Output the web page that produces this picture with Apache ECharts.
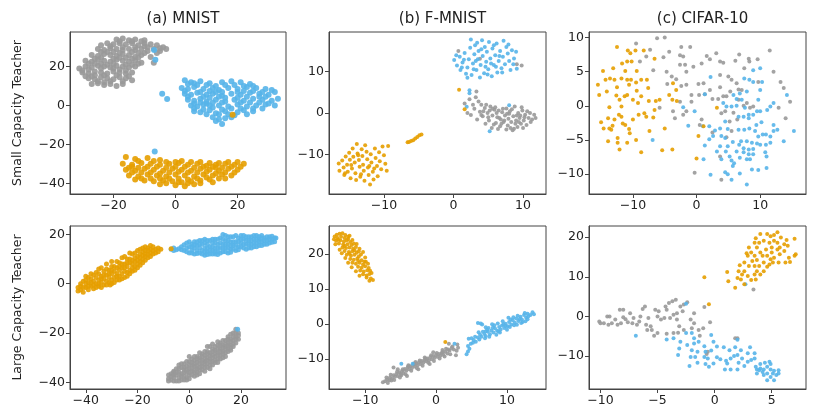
<!DOCTYPE html>
<html>
<head>
<meta charset="utf-8">
<script src="https://cdn.jsdelivr.net/npm/echarts@6/dist/echarts.min.js"></script>
<style>
  html, body { margin: 0; padding: 0; background: #fff; }
  #chart { width: 814px; height: 419px; }
</style>
</head>
<body>
<div id="chart"></div>
<script>
// 标题 / 行标签 / 刻度
const titles = ['(a) MNIST', '(b) F-MNIST', '(c) CIFAR-10']
const rowLabels = ['Small Capacity Teacher', 'Large Capacity Teacher']
const xTicks = [[-20, 0, 20], [-10, 0, 10], [-10, 0, 10], [-40, -20, 0, 20], [-10, 0, 10], [-10, -5, 0, 5]]
const yTicks = [[-40, -20, 0, 20], [-10, 0, 10], [-10, -5, 0, 5, 10], [-40, -20, 0, 20], [-10, 0, 10, 20], [-10, 0, 10, 20]]

// (a) MNIST - small
const mnistSmallGray = [[-19,34],[-17,34.5],[-15,33.5],[-13,34],[-11,33],[-22,32],[-20,31.5],[-18,32],[-16,31.5],[-14,32],[-12,31],[-10,32],[-8,31.5],[-6,31],[-4,30],[-3,29],
  [-25,29],[-23,28.5],[-21,29.5],[-19,29],[-17,28.5],[-15,29],[-13,28.5],[-11,29],[-9,28],[-7,29],[-5,28],
  [-27,26],[-25,25.5],[-23,26.5],[-21,26],[-19,25.5],[-17,26.5],[-15,26],[-13,25],[-11,26],[-8,25],[-7,22],
  [-29,23],[-27,22.5],[-25,23.5],[-23,23],[-21,22.5],[-19,23.5],[-17,23],[-15,22.5],[-13,23],[-11,22],
  [-31,19],[-29,20],[-27,19.5],[-25,20.5],[-23,20],[-21,19.5],[-19,20.5],[-17,20],[-15,19.5],[-13,20],
  [-30,17],[-28,16.5],[-26,17.5],[-24,17],[-22,16.5],[-20,17.5],[-18,17],[-16,16.5],[-14,17],
  [-28,14],[-26,13.5],[-24,14.5],[-22,14],[-20,13.5],[-18,14.5],[-16,14],[-14,13],
  [-27,11],[-25,11.5],[-23,10.5],[-21,11],[-19,10],[-17,11],
  [-24,31],[-20,27.5],[-16,24.5],[-22,21],[-18,18.5],[-12,27],[-26,15.5],[-10,30.5],[-14,21],
  [-18,33],[-14,33],[-10,33.5],[-21,30.5],[-17,30],[-13,30],[-9,30],[-5,29.5],[-24,27.5],[-22,27.5],[-18,27],[-14,27.5],[-10,27],[-6,27],
  [-26,24],[-24,24.5],[-20,24],[-18,24.5],[-14,24],[-12,24.5],[-28,21.5],[-26,21.5],[-24,21.5],[-20,21.5],[-16,21],[-12,21.5],
  [-30,18],[-28,18.5],[-24,19],[-20,19],[-16,18],[-29,15],[-27,15],[-23,15.5],[-19,15.5],[-15,15],[-25,12.5],[-21,12.5],[-17,12.5],[-23,12]]
const mnistSmallBlue = [[3,13],[5,12],[8,12.5],[11,11.5],[15,12],[18,12.5],[21,12],[24,11],
  [2,9],[4,8.5],[6,9.5],[9,8.5],[12,9],[14,8],[17,9],[20,8.5],[23,9.5],[26,9],[29,8.5],
  [3,6],[5,5.5],[7,6.5],[10,5.5],[12,6],[15,5],[18,6],[21,5.5],[24,6.5],[27,6],[30,5.5],[32,7],
  [4,3],[6,2.5],[8,3.5],[10,2],[13,3],[16,2],[19,3],[22,2.5],[25,3.5],[28,3],[31,2.5],[33,3.5],
  [5,0],[7,-0.5],[9,0.5],[12,-1],[14,0],[17,-0.5],[20,0.5],[23,-0.5],[26,0],[29,0.5],[32,0],
  [6,-3],[8,-3.5],[11,-2.5],[13,-4],[16,-3],[20,-3.5],[22,-2.5],[25,-3],
  [12,-6],[14,-7],[16,-6.5],[18,-6],[15,-9.5],[13,-8],
  [7,10.5],[19,10.5],[11,7.5],[22,7.5],[16,4],[27,4.5],[10,1],[24,1.5],[18,-1.5],[9,-2],
  [4,11],[6,11.5],[10,10.5],[13,10],[16,10.5],[22,10],[25,10],[3,7.5],[8,7],[13,7],[15,7],[20,7],[25,7.5],[28,7],[31,8],
  [4,4.5],[9,4.5],[11,4],[14,4.5],[20,4],[23,4.5],[29,4.5],[6,1],[8,1.5],[12,1.5],[15,1.5],[21,1.5],[27,1.5],[30,1],
  [6,-1.5],[11,0],[15,-2],[21,-1.5],[25,-1.5],[28,-1.5],[10,-4.5],[14,-4.5],[17,-4.5],[19,-5],[23,-4.5],
  [-6.9,28.6],[-6.5,23.5],[-4.3,6],[-2.7,3.3],[-6.7,-23.7]]
const mnistSmallOrange = [[-16,-26.5],[-13,-27.5],[-9,-27],[-5,-28],[2,-28.5],[8,-29],[14,-29.5],
  [-17,-30],[-14,-30.5],[-11,-29.5],[-8,-30],[-5,-30.5],[-2,-30],[1,-29.5],[4,-30.5],[7,-30],[10,-31],[13,-30.5],[16,-30],[19,-30.5],[22,-30],
  [-16,-33],[-13,-33.5],[-10,-32.5],[-7,-33],[-4,-33.5],[-1,-32.5],[2,-33],[5,-33.5],[8,-32.5],[11,-33],[14,-33.5],[17,-32.5],[20,-33],
  [-15,-36],[-12,-36.5],[-9,-35.5],[-6,-36],[-3,-36.5],[0,-35.5],[3,-36],[6,-36.5],[9,-35.5],[12,-36],[15,-35.5],[18,-36],
  [-10,-38.5],[-7,-39],[-4,-38.5],[-1,-39],[2,-39.5],[5,-39],[8,-38.5],[11,-38],[14,-37.5],
  [0,-41],[3,-41.5],[6,-40.5],[-5,-40.5],
  [-14,-31.5],[-8,-34.5],[-2,-34.5],[4,-34.5],[10,-34],[16,-34.5],[21,-31.5],[7,-37.5],[-11,-37.5],[13,-32],
  [-12,-28.5],[-7,-28.5],[-3,-29],[0,-29],[5,-29],[11,-29.5],[17,-29],[20,-29],[-15,-32],[-12,-32],[-9,-31.5],[-6,-31.5],[-3,-32],[0,-31.5],
  [3,-31.5],[6,-32],[9,-31.5],[12,-31.5],[15,-32],[18,-31.5],[-14,-34.5],[-11,-34.5],[-5,-35],[1,-34],[7,-34.5],[13,-35],[19,-34.5],
  [-13,-38],[-8,-37.5],[-5,-37.5],[-2,-37.5],[1,-37.5],[4,-38],[10,-37],[16,-37.5],[-3,-40],[1,-39.5],[4,-40],[8,-40],[12,-39.5],
  [18.4,-4.8]]

// (b) F-MNIST - small
const fmnistSmallGray = [[0.7,15],[9.1,11.8],[9.8,11.5],[3.8,13.1],[3.3,5.2],[3.2,3.8],[1.6,2.3],[2.3,3.3],[2,0],[2.5,-0.5],[3,1],[3.4,-1.6],[3.8,0.3],[4,2],[4.2,-0.8],[4.5,1.2],[4.6,-2.6],[4.9,0],[5.1,-1.8],[5.3,1.6],[5.5,-3.6],[5.6,-0.6],[5.9,0.8],[6.1,-2.4],[6.3,-1],[6.5,0.6],[6.7,-3.2],[6.8,-1.6],[7,0.2],[7.2,-2.2],[7.4,-0.6],[7.6,1.1],[7.8,-3],[7.9,-1.4],[8.1,0.4],[8.3,-2.2],[8.5,-4.2],[8.6,-0.8],[8.8,1.6],[9,-1.8],[9.2,-3.4],[9.3,0],[9.5,-1.2],[9.7,-2.6],[9.9,0.6],[10.1,-1.8],[10.3,-0.4],[10.5,-2.9],[10.8,-1.2],[11,0],[11.3,-1.6],[11.6,-0.4],[5,-1],[6.6,-1.2],[8,-0.2],[9.6,-0.6],[7.3,-1.8],[8.9,-2.6],[4.3,0.4],[6,1.4],
  [4,-0.5],[4.7,2],[5.2,0.6],[5.8,-2.8],[6.2,0],[6.9,-2.6],[7.1,1],[7.7,-0.2],[8.2,-3.6],[8.4,0.9],[9.1,-0.6],[9.4,-2.2],[9.8,1.4],[10.2,-1],[10.6,0.4],[11.1,-2.2],[11.8,-1.2],[3.6,2.8],[2.8,2],[6.4,-3.9],[7.6,-4],[8.7,-3.8],[10,-3.6],[5.6,1]]
const fmnistSmallBlue = [[0.1,12.8],[0.5,11.5],[0.9,13.6],[1,10.4],[1.3,12.2],[1.6,14.5],[1.8,9.5],[2,11],[2.2,13],[2.4,15.8],[2.5,17.8],[2.6,9.2],[2.8,12],[3,14.2],[3.1,16.4],[3.3,10.4],[3.5,13],[3.6,15],[3.8,8.6],[3.9,11.6],[4.1,17.6],[4.2,13.8],[4.4,9.6],[4.5,16],[4.7,12.4],[4.8,14.8],[5,10.6],[5.1,17.2],[5.3,13.2],[5.5,8.9],[5.6,15.6],[5.8,11.6],[6,14],[6.2,16.8],[6.3,9.8],[6.5,12.6],[6.7,15],[6.9,10.8],[7.1,13.6],[7.2,17.5],[7.4,11.8],[7.6,16],[7.8,14.4],[8,12.6],[8.2,10.4],[8.4,15.2],[8.7,13.2],[9,14.8],[9.1,10.7],[1.5,12.9],[2.9,10.6],[4,15.4],[5.4,12],[6.6,13.8],[3.2,12.6],[2.3,5.5],[2.3,4.8],[1.9,1.5],[8,1.9],[5.2,-4.4],[4.6,11.2],[5.8,16.4],
  [1.2,11],[2,8.5],[3.4,17],[4.9,9.3],[6.1,11.2],[7,9.8],[8.6,11.8],[7.9,16.6],[0.4,14]]
const fmnistSmallOrange = [[-16.5,-12.2],[-16.4,-14],[-16,-11.5],[-15.8,-13.2],[-15.7,-15],[-15.5,-10.5],[-15.3,-12.5],[-15.2,-14.2],[-15,-9.6],[-14.9,-11.3],[-14.8,-15.8],[-14.6,-13.4],[-14.5,-8.6],[-14.4,-10.6],[-14.2,-12],[-14.1,-14.6],[-14,-16.2],[-13.9,-7.5],[-13.8,-9.8],[-13.6,-11.4],[-13.5,-13],[-13.4,-15.4],[-13.2,-8.8],[-13.1,-10.4],[-13,-12.5],[-12.9,-14],[-12.8,-16.4],[-12.7,-7.8],[-12.5,-9.4],[-12.4,-11.2],[-12.3,-13.2],[-12.2,-15],[-12,-17.3],[-11.9,-10],[-11.8,-12],[-11.6,-14.2],[-11.5,-16.1],[-11.3,-8.6],[-11.2,-10.9],[-11,-12.8],[-10.9,-15.3],[-10.7,-9.5],[-10.6,-11.7],[-10.4,-13.6],[-10.2,-8.1],[-10,-10.2],[-9.8,-12.3],[-9.6,-14],[-9.4,-8],[-14.7,-12.6],[-13.3,-14.8],[-12.1,-12.8],[-15.6,-14.6],[-13.7,-10.2],[-11.4,-13.4],
  [-6.4,-7],[-6.1,-6.8],[-5.8,-6.6],[-5.5,-6.2],[-5.2,-5.8],[-4.9,-5.4],[-4.6,-5.2],[-6.6,-7.1],[0.8,5.6],[1.6,0.9]]

// (c) CIFAR-10 - small
const cifarSmallGray = [[-9.5,9.1],[-6.2,9.9],[-5,10],[-2.4,8.6],[-1,8.6],[-8.9,6.5],[-7.9,7.2],[-7.3,8.2],[-5.2,7.1],[-4.3,7.9],[-2.6,7.4],[-2.1,7.2],[-2.6,6],[-1.8,6],[-6.8,5.2],[-4.7,5],[-3.9,4.3],[-3.2,3.9],[-4.6,3.2],[-1.6,5],[-0.5,5.7],[0.8,6.2],[1.6,7.3],[2.1,6.8],[3.1,7.7],[3.7,6.5],[4.2,6.3],[6.1,6.6],[6.7,7.5],[8.2,6.9],[8.3,6.5],[9.6,6.8],[11.5,8.1],[7.5,5.5],[3.7,4.5],[5,4.3],[5.5,3.8],[6.3,3.3],[7.1,2.3],[6.6,2.4],[9.7,3.5],[12.1,5],[13.2,3.5],[13.7,2.6],[14.7,0.6],[12.9,-0.3],[14,-1.8],[-2.4,2.9],[-1.6,3.1],[-0.8,1.6],[0.3,3.2],[1.1,3.3],[0.4,1.6],[1.3,1.7],[2.1,2.3],[2.5,1],[3.4,1],[3.7,2.7],[4.2,1.4],[4.7,1.4],[5.3,2.1],[6.6,0.9],[7.4,0],[7.9,0.4],[8.4,-0.3],[8.9,-0.1],[3.9,-1.1],[4.5,-0.8],[5.8,-1],[6.4,-2],[5.2,-2.3],[0.8,-2],[0.5,-2.8],[-3.4,-1.8],[-3.7,-0.8],[-2.1,-1.3],[-1.6,-0.8],[-0.8,0.6],[2.5,-3.9],[4.7,-4.6],[5.5,-3.7],[3.7,-7.4],[-0.3,-9.8],[3.9,-10.8],[-5.8,-0.3],[-2.6,0.6]]
const cifarSmallBlue = [[1.3,1.7],[2.2,4.2],[-2.1,-0.2],[-0.3,-0.8],[-1.3,-2.9],[1,-3],[2,-3],[-6.9,-5],[1.3,-5.8],[1.1,-7.8],[2,-4.9],[2.2,-10.1],[2.6,-4.4],[2.9,-3.6],[3.7,-3.3],[4.2,0.4],[4.5,-2.3],[4.9,-3.4],[3.9,-4.4],[4.5,-4.7],[3.7,-5.9],[3.2,-6.7],[3.9,-7.8],[4.6,-6.7],[5.2,-7.4],[5.7,-5.3],[5.5,-8],[5.9,-8.4],[4.9,-5.9],[6.3,1],[7.1,0.9],[7.6,-0.3],[6.6,-1.6],[7.4,-1.6],[8.2,-1.8],[8.2,-1.3],[8.9,-1.3],[9.5,-0.8],[10,-0.8],[9.7,0.9],[11.1,-0.6],[11.6,-0.1],[12.1,0.4],[10.3,3.5],[10,2.3],[8.9,3.5],[7.9,2.1],[8.3,3.8],[8.9,5.2],[10,5.5],[7.5,4],[6.8,1.8],[5.8,1.6],[6.6,-3.5],[7.5,-3.5],[8.3,-3.3],[9.2,-3.7],[9.4,-2.8],[10.2,-2.4],[9.7,-4.5],[10.4,-4.2],[10.9,-4.2],[11.6,-4.5],[12.1,-3.7],[12.7,-3.5],[11.6,-5.4],[10.9,-5.7],[10,-5.7],[9.5,-5.5],[8.7,-5.4],[7.9,-5.2],[7,-5.2],[6.7,-5.7],[7.4,-6.2],[8.2,-6.4],[8.9,-6.3],[8.2,-7.1],[7.4,-6.8],[6.3,-6.7],[6.8,-7.6],[7.9,-7.8],[8.4,-7.8],[8.9,-7.1],[10.8,-6.8],[11,-7.4],[11,-9.1],[9.7,-9.4],[8.7,-9.3],[6.8,-9.9],[5.5,-10.8],[7.9,-11.5],[4.9,-10],[4.5,-9.7],[5.7,-8.8],[15.3,-3.7],[13.7,-5.2],[14.2,1.6],[12.1,-2.8],[5.5,-0.1],[4.7,-0.1],[6.3,0]]
const cifarSmallOrange = [[-12.5,8.6],[-10.8,8.1],[-10.4,7.7],[-9.6,8.1],[-8.3,8.1],[-6.6,6.9],[-14.7,5.1],[-13.1,5.5],[-11.7,6.2],[-10.9,6.5],[-10.2,6.5],[-11.2,5.1],[-9.4,5.1],[-15.5,3.1],[-15.3,1.6],[-14.3,3.8],[-14.1,2.1],[-13.6,4],[-12.9,3.8],[-12.5,2.7],[-11.8,4],[-10.9,3.8],[-10.6,3.1],[-10.3,3.8],[-9.5,3.4],[-9.4,2.2],[-8.7,3.8],[-7.8,3.8],[-7.6,2.6],[-10.9,1.6],[-12.6,1.5],[-13.7,-0.2],[-12.1,0.9],[-11.3,1.4],[-10,0.9],[-9.2,0.4],[-7.5,0.7],[-6.4,0.7],[-5.8,0.9],[-4.3,1.6],[-3.8,0.9],[-3.2,2.3],[-3.1,0.7],[-3.7,3.3],[-15,-2.4],[-14.6,-3.3],[-13.7,-3.3],[-13.2,-2.9],[-12.9,-2],[-12.2,-1.3],[-11.8,-1.6],[-11.6,-2.6],[-11.2,-2.8],[-10.6,-3.4],[-10,-2],[-9.1,-1.3],[-8.2,-1.1],[-7.9,-1.6],[-6.8,-1.7],[-6.6,-0.6],[-5,-3.3],[-7.4,-3.7],[-9.5,-5],[-10.5,-4],[-13.9,-5.2],[-12.4,-4.7],[-12.4,-5.4],[-12.1,-6.4],[-10.9,-5.4],[-8.7,-6.8],[-5.4,-6.5],[-3.8,-6.4],[0,-7.7],[0.3,-4.4],[1.1,-3],[3.2,-0.3],[-13.4,-3.5],[-13.9,-1.8],[-11.8,-0.1],[-8.7,1.4]]

// (a) MNIST - large
const mnistLargeGray = [[-8,-38.5],[-8,-37],[-7,-39],[-7,-36.5],[-6,-38],[-6,-35.5],[-5,-39.5],[-5,-37],[-5,-34.5],[-4,-38],[-4,-36],[-4,-33],[-3,-39],[-3,-36.5],[-3,-34],[-2,-37.5],[-2,-35],[-2,-32.5],[-1,-38],[-1,-36],[-1,-33.5],[0,-37],[0,-34.5],[0,-31.5],[1,-35.5],[1,-33],[1,-30.5],[2,-36],[2,-33.5],[2,-31],[3,-34.5],[3,-32],[3,-29.5],[4,-35],[4,-32.5],[4,-30],[5,-33.5],[5,-31],[5,-28.5],[6,-34],[6,-31.5],[6,-29],[7,-32.5],[7,-30],[7,-27.5],[8,-33],[8,-30.5],[8,-28],[8,-25.5],[9,-31.5],[9,-29],[9,-26.5],[10,-32],[10,-29.5],[10,-27],[11,-30.5],[11,-28],[11,-25],[12,-29],[12,-26.5],[12,-24],[13,-30],[13,-27.5],[13,-25],[14,-28],[14,-25.5],[14,-23],[15,-26.5],[15,-24],[15,-21.5],[16,-27],[16,-25],[16,-22.5],[17,-25.5],[17,-23],[17,-20],[18,-24],[18,-21.5],[18,-18.5],[19,-22.5],[19,-20],[-6,-37],[3,-36],[6,-32.5],
  [-8,-39.5],[-7,-37.5],[-6,-39.5],[-6,-36],[-5,-36],[-4,-39.5],[-4,-34.5],[-3,-37.5],[-3,-32.5],[-2,-39],[-2,-36],[-2,-34],[-1,-39],[-1,-35],[-1,-31.5],[0,-38.5],[0,-36],[0,-33],[0,-29.5],
  [1,-37],[1,-34.5],[1,-32],[2,-37.5],[2,-35],[2,-32.5],[2,-29.5],[3,-37],[3,-33.5],[3,-30.5],[4,-36.5],[4,-34],[4,-31],[4,-28],[5,-35],[5,-32.5],[5,-29.5],[6,-35.5],[6,-30.5],[6,-27.5],
  [7,-34],[7,-31],[7,-28.5],[7,-25.5],[8,-34.5],[8,-31.5],[8,-29],[9,-33],[9,-30],[9,-27.5],[9,-24.5],[10,-31],[10,-28],[10,-25.5],[11,-32],[11,-29],[11,-26.5],[11,-23.5],
  [12,-30.5],[12,-27.5],[12,-25],[13,-28.5],[13,-26],[13,-23],[14,-29.5],[14,-26.5],[14,-24.5],[15,-27.5],[15,-25],[15,-22.5],[16,-26],[16,-23.5],[16,-20.5],[17,-24.5],[17,-21.5],[18,-22.5],[18,-20],[19,-21]]
const mnistLargeBlue = [[-7,14],[-6,14.5],[-5,13.8],[-4,14.2],[-3,15],[-2,13.5],[-2,15.8],[-1,14.5],[-1,16.5],[0,12.5],[0,15],[0,17],[1,13.5],[1,16],[2,12],[2,14.5],[2,17],[3,13.5],[3,15.5],[4,12.5],[4,14.5],[4,17.5],[5,13.5],[5,16],[6,11.5],[6,14.5],[6,18],[7,13],[7,16],[8,12],[8,15],[8,17.5],[9,13.5],[9,16.5],[10,12],[10,14.5],[10,18],[11,13],[11,16],[12,14.5],[12,18.5],[13,13],[13,16],[13,20],[14,14.5],[14,17.5],[15,12.5],[15,16],[15,19],[16,14],[16,17],[17,15.5],[17,19],[18,13.5],[18,17],[19,15],[19,18.5],[20,16.5],[20,19.5],[21,14.5],[21,18],[22,16],[22,19],[23,14.5],[23,17.5],[24,16],[24,19],[25,15],[25,18],[26,16.5],[26,19.5],[27,15.5],[27,18],[28,17],[28,19.5],[29,16],[29,18.5],[30,17.5],[31,16.5],[31,19],[32,18],[33,17],[33.5,18.5],
  [-6,13.5],[-3,13.8],[-1,13],[1,12.5],[1,15],[2,15.8],[3,12.2],[3,17],[4,16],[5,12],[5,17.5],[6,13],[6,16.5],[7,11.8],[7,14.5],[7,17.5],[8,13.5],[9,12],[9,15],[9,18],[10,13],[10,16.5],
  [11,11.8],[11,14.5],[11,18],[12,12.5],[12,16.5],[13,14.5],[13,18],[14,13],[14,16],[14,19.5],[15,14.5],[15,17.5],[16,12.8],[16,15.5],[16,19],[17,14],[17,17],[18,15.5],[18,19.5],
  [19,13.8],[19,17],[20,15],[20,18],[21,16],[21,19.5],[22,14],[22,17.5],[23,16],[23,19],[24,14.5],[24,17.5],[25,16.5],[25,19.5],[26,15],[26,18],[27,17],[27,19],[28,15.5],[28,18.5],
  [29,17.5],[30,16],[30,19],[31,18],[32,16.8],[32,19.2],[33,18.5],[18.7,-18.5]]
const mnistLargeOrange = [[-43,-3],[-43,-1.5],[-42,-2.5],[-42,0],[-41,-3.5],[-41,1],[-40,-1.5],[-40,1.5],[-39,-2.5],[-39,0.5],[-39,2.5],[-38,-1],[-38,2],[-37,-2],[-37,1],[-37,3.5],[-36,0],[-36,2.5],[-35,-1],[-35,1.5],[-35,4],[-34,0.5],[-34,3],[-33,-0.5],[-33,2],[-33,5],[-32,1],[-32,3.5],[-31,0.5],[-31,2.5],[-31,5.5],[-30,1.5],[-30,4],[-30,7],[-29,2.5],[-29,5],[-28,1.5],[-28,4],[-28,6.5],[-27,3],[-27,5.5],[-27,8.5],[-26,4],[-26,6.5],[-25,2.5],[-25,5],[-25,8],[-24,4.5],[-24,7],[-24,10],[-23,5.5],[-23,8.5],[-22,6.5],[-22,9.5],[-22,12],[-21,7],[-21,10.5],[-20,8],[-20,11],[-20,13.5],[-19,9],[-19,12],[-18,10],[-18,13],[-18,14.5],[-17,11],[-17,13.5],[-16,12],[-16,14.5],[-15,12.5],[-15,14],[-14,13.5],[-13,14],[-12,14.5],[-11,14],[-30.6,-0.5],
  [-42,-1],[-41,-1.5],[-40,0],[-40,3],[-39,-1],[-38,0.5],[-38,4],[-37,-0.5],[-36,-1.5],[-36,4.5],[-35,0],[-35,6],[-34,-1.5],[-34,2],[-34,6.5],[-33,3.5],[-32,-0.5],[-32,6],[-32,8],[-31,4],
  [-30,0],[-30,5.5],[-30,9],[-29,0.5],[-29,7],[-28,3],[-28,9],[-27,1.5],[-27,7],[-26,2],[-26,8],[-26,10.5],[-25,6.5],[-25,11],[-24,3],[-24,8.5],[-23,4],[-23,10],[-23,12.5],[-22,5],[-22,8],
  [-21,5.5],[-21,9],[-21,12.5],[-20,6.5],[-20,9.5],[-19,7.5],[-19,10.5],[-19,14],[-18,8.5],[-18,11.5],[-17,9.5],[-17,12],[-17,15],[-16,10.5],[-16,13.5],[-15,11],[-15,15.5],[-14,12],[-14,15],[-13,12.5],[-12,13],
  [-7,14.2]]

// (b) F-MNIST - large
const fmnistLargeGray = [[-7.2,-16.3],[-6.9,-15.8],[-6.6,-16],[-6.5,-15.2],[-6.2,-15.5],[-6,-14.6],[-5.8,-15],[-5.6,-14.2],[-5.4,-14.8],[-5.2,-13.7],[-5,-14.2],[-4.8,-13.4],[-4.6,-13.9],[-4.4,-12.8],[-4.2,-13.3],[-4,-12.4],[-3.8,-12.9],[-3.6,-12],[-3.4,-12.5],[-3.2,-11.6],[-3,-12.1],[-2.8,-11.2],[-2.6,-11.7],[-2.4,-10.9],[-2.2,-11.4],[-2,-10.5],[-1.8,-11],[-1.6,-10.2],[-1.4,-10.6],[-1.2,-9.8],[-1,-10.3],[-0.8,-9.4],[-0.6,-10],[-0.4,-9.1],[-0.2,-9.6],[0,-8.8],[0.2,-9.3],[0.4,-8.5],[0.6,-9],[0.8,-8.2],[1,-8.7],[1.3,-7.9],[1.6,-8.4],[1.9,-7.5],[2.2,-6.8],[2.5,-7.2],[1.8,-5.6],[3.1,-6.7],[2.8,-8.9],[-6,-12.4],[-5.4,-12.9],[-7,-15.2],[-3.9,-11.7],[-0.4,-8],[0.9,-7.4],[-1.6,-9.5],[-4.9,-14.6],[-6.3,-16.1],[1.4,-7],[-2.9,-10.8],
  [-6.8,-16.8],[-6.4,-14.4],[-5.9,-15.9],[-5.5,-13.6],[-5.1,-15.2],[-4.7,-12.9],[-4.3,-14.3],[-3.9,-12],[-3.5,-13.3],[-3.1,-11.2],[-2.7,-12.6],[-2.3,-10.4],[-1.9,-11.9],[-1.5,-9.8],[-1.1,-11],
  [-0.7,-8.9],[-0.3,-10.5],[0.1,-8.2],[0.5,-9.8],[0.9,-8],[1.2,-9.2],[1.7,-7.2],[2,-8.6],[2.3,-6.4],[2.9,-7.6],[-7.5,-16.6],[3,-5.8],[-4.1,-14.8],[-2.5,-12.9],[-0.9,-11.4]]
const fmnistLargeBlue = [[4.3,-8.6],[4.5,-7.8],[4.7,-7],[4.6,-4.2],[5,-4],[5.3,-4.5],[5.5,-3.6],[5.9,-3.8],[6.2,-3],[6.4,-3.6],[6.8,-2.8],[7,-3.4],[7.3,-2.2],[7.6,-2.9],[7.8,-1.8],[8.1,-2.4],[8.3,-1.2],[8.6,-1.9],[8.9,-0.8],[9.1,-1.5],[9.3,-0.4],[9.6,-1.1],[9.8,0.1],[10.1,-0.6],[10.3,0.6],[10.6,-0.1],[10.8,1.1],[11.1,0.4],[11.3,1.6],[11.6,0.9],[11.9,2.1],[12.1,1.3],[12.4,2.6],[12.7,1.9],[12.9,3],[13.3,2.6],[13.6,3.4],[5.9,0.3],[6.5,-0.1],[7,-0.9],[7.4,-1.1],[8.2,-0.3],[9.8,-0.5],[10.5,1.3],[11,-0.3],[11.8,1.5],[12.2,0.6],[12.9,1.4],[8.8,-2],[9.5,0],[6,-2.3],[5.2,-5.3],[4.5,-6.2],[2.6,-5.6],[-4.9,-11.3],[-3.3,-11.3],[10.2,1.8],[11.5,2.4],[7.2,-1.6],[8.7,0.2],
  [4.9,-5.6],[5.6,-5],[6.1,-4.4],[6.6,-2.2],[6.9,-4],[7.5,-3.6],[8,-1],[8.5,-3],[9,-2.4],[9.4,0.8],[10,-1.6],[10.4,-0.8],[10.9,2],[11.4,-0.2],[12,0.3],[12.5,3.2],[13,2.2],[13.8,2.8],[12.6,0.8],[7.9,0],[6.3,0.2],[7,-2]]
const fmnistLargeOrange = [[-14,25.5],[-13.6,25.8],[-13.2,25.9],[-12.8,25.4],[-13.9,24.6],[-13.4,24.9],[-12.9,24.6],[-12.4,24.3],[-14.1,23.8],[-13.5,23.9],[-13,23.6],[-12.6,23.9],[-12.1,23.4],[-13.7,23],[-13.1,22.7],[-12.5,22.8],[-11.9,22.6],[-13.2,21.9],[-12.7,21.7],[-12.2,21.9],[-11.7,21.5],[-11.3,22],[-12.9,20.9],[-12.3,20.6],[-11.8,20.8],[-11.2,20.4],[-12.6,19.8],[-12,19.5],[-11.5,19.8],[-10.9,19.3],[-10.6,19.9],[-12.1,18.6],[-11.6,18.4],[-11.1,18.7],[-10.5,18.2],[-11.8,17.5],[-11.3,17.2],[-10.8,17.5],[-10.3,17],[-11,16.4],[-10.5,16.1],[-10,16.5],[-10.7,15.3],[-10.2,15],[-9.7,15.4],[-10.3,14.2],[-9.8,13.9],[-9.4,14.3],[-9.8,13.3],[-9.2,13],[-8.9,12.6],[-12.4,24.9],[-13.8,24.1],[-11.6,23],[-12.9,22.3],[-10.9,20.8],[-11.5,21.1],[-9.9,17.8],[-10.1,17.8],[-9.5,16],
  [-14.3,25],[-14.4,24.2],[-12.2,25.2],[-11.8,24],[-14.2,22.8],[-11.2,22.9],[-13.6,21.2],[-10.8,21.5],[-13.3,20.2],[-10.3,20.6],[-12.8,18.9],[-10,19],[-12.4,17.5],[-9.6,17.2],[-11.9,16.2],[-9.3,15.2],[-11.3,15.1],[-9.1,14.6],[-10.8,13.8],[-9.4,12.4],[-12.2,20.1],[-11,18.1],
  [1.3,-5.1]]

// (c) CIFAR-10 - large
const cifarLargeGray = [[3.4,6.8],[-10.1,-1.3],[-10,-1.7],[-9.4,0],[-9.3,-2.1],[-9,-1.7],[-8.7,-0.8],[-8.5,-2.1],[-8.3,1.7],[-8.2,-1.7],[-8,-0.2],[-7.8,-0.7],[-7.6,-1.5],[-7.4,0.8],[-7.2,-1.7],[-7.1,-0.4],[-6.8,-2.1],[-6.6,-1.3],[-6.5,0],[-6.3,1.9],[-6.1,2.5],[-6,-2.1],[-5.8,-0.4],[-5.6,-2.5],[-5.5,-3.4],[-5.3,-4.9],[-5.2,1.7],[-5,0],[-4.9,1.3],[-4.7,-0.8],[-4.4,-0.4],[-4.3,2.5],[-4.2,1.7],[-4,3.4],[-3.9,-0.4],[-3.7,3.8],[-3.6,0.4],[-3.4,4.2],[-3.3,0.8],[-3.3,-0.8],[-3.1,-2.5],[-3,2.5],[-2.8,1.3],[-2.7,3],[-2.4,3.6],[-3.2,-4.1],[-2.7,-3.4],[-2.1,-0.8],[-2,-3],[-1.8,0.8],[-1.8,-1.7],[-1.4,-3.4],[-1.3,-4.9],[-1,-3],[-0.9,2.4],[-0.4,-1.5],[-0.6,-8.9],[-0.7,-9.5],[-3.6,-4.2],[-4.2,-4.4],[1.8,-5.5],[2,-5.5],[-5,-4.2],[-5.9,-3.4],[-8,1.7],[-9.2,0],[-9.7,-1.7]]
const cifarLargeBlue = [[-2.5,3.2],[-6.9,-4.9],[-4.2,-5.8],[-3.6,-5.5],[-3,-6.4],[-3.2,-9.7],[-2.5,-4.2],[-2,-4.2],[-2.4,-7.2],[-1.8,-6.8],[-2,-8.5],[-2.1,-10.2],[-2.2,-12.5],[-1.7,-10.2],[-1.5,-8.9],[-1.5,-11.7],[-0.9,-7.5],[-0.8,-8.9],[-0.3,-4.7],[-0.3,-8.6],[-0.9,-10.2],[-0.6,-10.6],[-0.8,-12],[0.2,-10.3],[0.5,-10.8],[-0.1,-11.9],[0.8,-7.8],[1,-11.2],[1.1,-11.9],[1.3,-8.5],[0.9,-13.4],[1.4,-13.4],[1.7,-10],[1.8,-7.8],[2,-5.9],[2,-9.7],[2.1,-11.7],[2,-13.4],[2.4,-10.6],[2.6,-12.5],[2.9,-11.4],[3.1,-7.8],[3.2,-11],[3.5,-10.6],[3.6,-12.7],[3.7,-13.4],[3.7,-14.4],[4,-12],[4,-13.1],[4.2,-14],[4.4,-11.7],[4.6,-12.7],[4.6,-14.4],[4.9,-12],[4.9,-13.4],[4.9,-15.3],[5.1,-14.4],[5.2,-13.7],[5.4,-14.8],[5.6,-13.6],[5.6,-14.4],[5.2,-16.1],[4.6,-16.1],[4.3,-14.8],[3.9,-13.6],[4.3,-13.4],[4.8,-11.4],[2.7,8.1],[-3.1,-8.1],[-1.8,-5.5],[-1.4,-6.4],[-0.1,-6.4],[0.2,-7.6],[-0.5,-12.7],[2.9,-9.3],[3.5,-9.3],[2.3,-8.5],[1.4,-10.6]]
const cifarLargeOrange = [[-0.9,9.9],[-0.5,3.1],[1.1,11.2],[1.2,8.9],[1.8,7.2],[2.3,9.3],[2.1,11.4],[2.2,12.9],[2.6,13.6],[2.6,11.4],[3,12.7],[2.4,10.6],[2.9,10.2],[3.2,9.2],[3.6,9.3],[3.5,10.6],[3.7,11.4],[4,10.6],[4.3,11.4],[4.6,12.5],[4.8,13.1],[5.1,13.6],[5.6,13.6],[3.5,15.3],[3.2,16.1],[2.8,15.9],[3.3,14],[3.7,14.2],[4,16.1],[4.2,15.3],[4.5,16.9],[4.6,15.3],[5,16.1],[5.2,14.8],[5.5,16.9],[5.7,15.7],[6.1,16.5],[6.4,17.8],[6.5,14.8],[7,15.3],[7.1,15.7],[7,19.6],[6.3,19.3],[5.5,21.2],[5.2,20.5],[4.9,20.2],[4.6,20.8],[4,20.8],[3.6,19.7],[3.5,18.6],[3.9,18.6],[4.3,19.1],[4.8,18.6],[5.2,19.1],[5.5,18.6],[5.8,19.9],[6.1,18.2],[3,17.4],[2.9,15.3],[6.2,13.6],[6.6,13.7],[4.9,14.4],[4.3,13.6],[3.9,12.7],[3.5,12.7],[2.6,8.1],[2,9.7],[5.7,17.4],[5,17.4],[3.7,17.4]]

const panelData = [
  [mnistSmallGray, mnistSmallBlue, mnistSmallOrange],
  [fmnistSmallGray, fmnistSmallBlue, fmnistSmallOrange],
  [cifarSmallGray, cifarSmallBlue, cifarSmallOrange],
  [mnistLargeGray, mnistLargeBlue, mnistLargeOrange],
  [fmnistLargeGray, fmnistLargeBlue, fmnistLargeOrange],
  [cifarLargeGray, cifarLargeBlue, cifarLargeOrange]
]

// 布局
const colLeft = [70, 329, 589]
const colWidth = [216, 217, 217]
const rowTop = [32, 226]
const rowHeight = [162, 163]
const xRange = [[-34, 35.6], [-17.9, 13.3], [-16.9, 17.2], [-46.1, 37.4], [-15.1, 15.5], [-11, 8]]
const yRange = [[-45.5, 37.8], [-19.6, 19.6], [-12.9, 10.8], [-42.7, 23.4], [-18.5, 28], [-18.3, 22.8]]
const symSize = [6, 4, 4, 5, 4, 4]
const colors = ['#999999', '#56B4E9', '#E69F00']

const font = 'DejaVu Sans'
const minus = v => String(v).replace('-', '\u2212')

function makeAxis(i, ticks, range, isY) {
  const ax = {
    type: 'value',
    gridIndex: i,
    min: range[0],
    max: range[1],
    splitLine: { show: false },
    axisLine: { show: true, onZero: false, lineStyle: { color: '#444', width: 1 } },
    axisTick: { show: true, length: 4, customValues: ticks, lineStyle: { color: '#444' } },
    axisLabel: {
      customValues: ticks,
      formatter: minus,
      color: '#222',
      fontFamily: font,
      fontSize: 12.5,
      margin: 5
    }
  }
  if (isY && i % 3 === 0) {
    ax.name = rowLabels[i / 3]
    ax.nameLocation = 'middle'
    ax.nameGap = 46
    ax.nameTextStyle = { fontFamily: font, fontSize: 12.5, color: '#222' }
  }
  return ax
}

const grids = [], xAxes = [], yAxes = [], series = []
for (let i = 0; i < 6; i++) {
  const c = i % 3, r = Math.floor(i / 3)
  grids.push({
    left: colLeft[c], top: rowTop[r], width: colWidth[c], height: rowHeight[r],
    show: true, borderColor: '#444', borderWidth: 1, backgroundColor: 'transparent'
  })
  xAxes.push(makeAxis(i, xTicks[i], xRange[i], false))
  yAxes.push(makeAxis(i, yTicks[i], yRange[i], true))
  panelData[i].forEach((pts, k) => {
    series.push({
      type: 'scatter',
      xAxisIndex: i,
      yAxisIndex: i,
      data: pts,
      symbolSize: symSize[i],
      itemStyle: { color: colors[k], opacity: 0.9 },
      silent: true
    })
  })
}

const myChart = echarts.init(document.querySelector('#chart'), null, { renderer: 'canvas' })
myChart.setOption({
  animation: false,
  backgroundColor: '#fff',
  title: titles.map((t, c) => ({
    text: t,
    left: colLeft[c] + colWidth[c] / 2,
    top: 7,
    textAlign: 'center',
    textStyle: { fontFamily: font, fontSize: 15, fontWeight: 'normal', color: '#222' }
  })),
  grid: grids,
  xAxis: xAxes,
  yAxis: yAxes,
  series: series
})
</script>
</body>
</html>
